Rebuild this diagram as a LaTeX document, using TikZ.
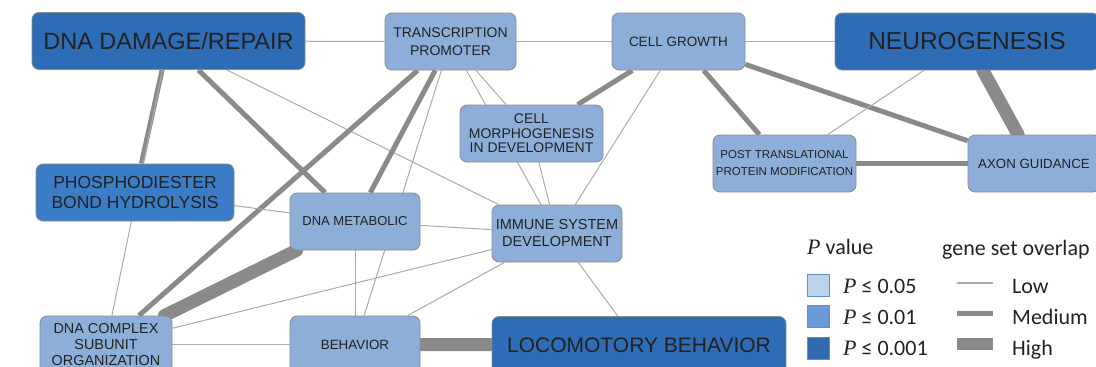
\documentclass[tikz,border=0pt]{standalone}
\usepackage{fontspec}
\setmainfont{Liberation Sans}
\newfontfamily\legendfont{Carlito}
\newfontfamily\pvarfont{Liberation Serif}
\usetikzlibrary{backgrounds}

\definecolor{plow}{HTML}{8EAEDA}
\definecolor{pmid}{HTML}{3B7CC6}
\definecolor{phigh}{HTML}{2E6CB5}
\definecolor{edgegray}{HTML}{8A8A8A}
\definecolor{thingray}{HTML}{ABABAB}
\definecolor{boxline}{HTML}{8C8C8C}
\definecolor{labeltext}{HTML}{222222}
\definecolor{keylow}{HTML}{BDD1EC}
\definecolor{keymid}{HTML}{6A9BD8}
\definecolor{keyhigh}{HTML}{2F69AE}
\definecolor{keyline}{HTML}{5E8FCB}

\newcommand{\fs}[2]{\fontsize{#1}{#2}\selectfont}
\newcommand{\pv}{{\pvarfont\itshape P}}

\begin{document}
\begin{tikzpicture}[x=1pt, y=-1pt,
    box/.style={draw=boxline, line width=0.8pt, rounded corners=7pt,
      align=center, inner sep=0pt, minimum height=57pt, text=labeltext},
    lowp/.style={box, fill=plow},
    midp/.style={box, fill=pmid},
    highp/.style={box, fill=phigh},
    thinedge/.style={draw=thingray, line width=1pt},
    midedge/.style={draw=edgegray, line width=5pt},
    highedge/.style={draw=edgegray, line width=13pt, line cap=round},
    key/.style={draw=keyline, line width=1pt, minimum size=22pt, inner sep=0pt},
    keytxt/.style={anchor=base west, inner sep=0pt, text=labeltext,
      font=\legendfont\fs{22}{24}},
  ]
  \useasboundingbox (0,0) rectangle (1096,367);
  \clip (0,0) rectangle (1096,367);

  % --- term nodes ---
  \node[highp, minimum width=273pt, font=\fs{23.5}{26}] (dnadamage) at (168.5,41)
    {DNA DAMAGE/REPAIR};
  \node[lowp, minimum width=131pt, font=\fs{14}{18}] (promoter) at (450.5,41.5)
    {TRANSCRIPTION\\PROMOTER};
  \node[lowp, minimum width=133pt, font=\fs{13.5}{16}] (growth) at (678.5,41.5)
    {CELL GROWTH};
  \node[highp, minimum width=264pt, font=\fs{24.5}{27}] (neuro) at (967,41.5)
    {NEUROGENESIS};
  \node[lowp, minimum width=143pt, font=\fs{14}{14.5}] (morpho) at (531.5,133.5)
    {CELL\\MORPHOGENESIS\\IN DEVELOPMENT};
  \node[lowp, minimum width=143pt, font=\fs{11.5}{17}] (posttrans) at (784.5,163.5)
    {POST TRANSLATIONAL\\PROTEIN MODIFICATION};
  \node[lowp, minimum width=132pt, font=\fs{13.3}{16}] (axon) at (1034,163.5)
    {AXON GUIDANCE};
  \node[midp, minimum width=198pt, font=\fs{17.5}{20}] (phospho) at (135,192.5)
    {PHOSPHODIESTER\\BOND HYDROLYSIS};
  \node[lowp, minimum width=130pt, font=\fs{13}{16}] (dnametab) at (355,221.5)
    {DNA METABOLIC};
  \node[lowp, minimum width=130pt, font=\fs{14.5}{17}] (immune) at (557,233.5)
    {IMMUNE SYSTEM\\DEVELOPMENT};
  \node[lowp, minimum width=132pt, font=\fs{14.4}{16}] (complex) at (106,344.5)
    {DNA COMPLEX\\SUBUNIT\\ORGANIZATION};
  \node[lowp, minimum width=130pt, font=\fs{13.4}{16}] (behavior) at (355,344.5)
    {BEHAVIOR};
  \node[highp, minimum width=294pt, font=\fs{21}{24}] (locomotor) at (639,345)
    {LOCOMOTORY BEHAVIOR};

  % --- overlap edges, behind the boxes ---
  \begin{scope}[on background layer]
    \clip (0,0) rectangle (1096,367);
    \draw[thinedge] (dnadamage) -- (promoter);
    \draw[thinedge] (promoter) -- (growth);
    \draw[thinedge] (growth) -- (neuro);
    \draw[midedge] (dnadamage) -- (phospho);
    \draw[thinedge] (dnadamage) -- (complex);
    \draw[midedge] (dnadamage) -- (dnametab);
    \draw[thinedge] (dnadamage) -- (immune);
    \draw[midedge] (promoter) -- (complex);
    \draw[midedge] (promoter) -- (dnametab);
    \draw[thinedge] (promoter) -- (behavior);
    \draw[thinedge] (promoter) -- (morpho);
    \draw[thinedge] (promoter) -- (immune);
    \draw[midedge] (growth) -- (morpho);
    \draw[thinedge] (growth) -- (immune);
    \draw[midedge] (growth) -- (posttrans);
    \draw[midedge] (growth) -- (axon);
    \draw[thinedge] (neuro) -- (posttrans);
    \draw[highedge] (neuro) -- (axon);
    \draw[midedge] (posttrans) -- (axon);
    \draw[thinedge] (morpho) -- (immune);
    \draw[thinedge] (phospho) -- (dnametab);
    \draw[highedge] (dnametab) -- (complex);
    \draw[thinedge] (dnametab) -- (immune);
    \draw[thinedge] (dnametab) -- (behavior);
    \draw[thinedge] (immune) -- (complex);
    \draw[thinedge] (immune) -- (behavior);
    \draw[thinedge] (immune) -- (locomotor);
    \draw[thinedge] (complex) -- (behavior);
    \draw[highedge] (behavior) -- (locomotor);
  \end{scope}

  % --- legend: P value ---
  \node[keytxt] (ptitle) at (807,254) {\pv{} value};
  \node[key, fill=keylow] (keylo) at (818,285) {};
  \node[key, fill=keymid] (keymd) at (818,316) {};
  \node[key, fill=keyhigh] (keyhi) at (818,348) {};
  \node[keytxt] (keylolbl) at (843,293) {\pv{} ≤ 0.05};
  \node[keytxt] (keymdlbl) at (843,324) {\pv{} ≤ 0.01};
  \node[keytxt] (keyhilbl) at (843,355) {\pv{} ≤ 0.001};

  % --- legend: gene set overlap ---
  \node[keytxt] (otitle) at (942,255) {gene set overlap};
  \coordinate (lowa) at (957,283);  \coordinate (lowb) at (993,283);
  \coordinate (mida) at (957,313);  \coordinate (midb) at (993,313);
  \coordinate (higha) at (957,344); \coordinate (highb) at (993,344);
  \draw[thinedge, line width=1.3pt] (lowa) -- (lowb);
  \draw[midedge] (mida) -- (midb);
  \draw[draw=edgegray, line width=12pt] (higha) -- (highb);
  \node[keytxt] (lowlbl) at (1012,293) {Low};
  \node[keytxt] (midlbl) at (1012,324) {Medium};
  \node[keytxt] (highlbl) at (1012,355) {High};
\end{tikzpicture}
\end{document}
